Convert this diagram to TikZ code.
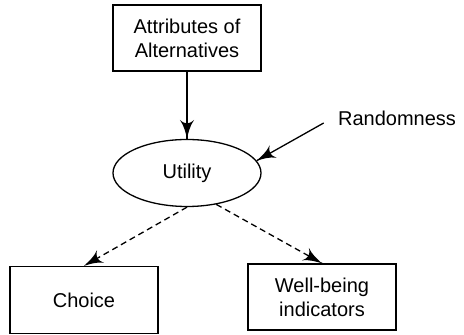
\documentclass[tikz,border=0pt]{standalone}
\usepackage{fontspec}
\setmainfont{Liberation Sans}
\usepackage{tikz}
\usetikzlibrary{arrows}
\usetikzlibrary{decorations.markings}
\usetikzlibrary{shapes.geometric}
\tikzset{arrowend/.style = {decoration={markings,
                                  mark=at position 1 with {\arrow[scale=2]{latex'}}},
                      postaction={decorate}}}
\tikzset{block/.style = {draw, line width=0.65pt, minimum width=74pt, minimum height=33pt,
                         align=center, font=\fontsize{10}{12}\selectfont}}

\begin{document}
\begin{tikzpicture}[x=0.5pt, y=-0.5pt]
    \useasboundingbox (0, 0) rectangle (464, 335);

    \node [block] (attr) at (187, 38) {Attributes of\\Alternatives};
    \node [block, ellipse, minimum height=33.5pt] (util) at (187, 173) {Utility};
    \node [inner sep=0, font=\fontsize{10}{12}\selectfont] (rand) at (397, 118) {Randomness};
    \node [block, minimum height=33.5pt] (choice) at (84, 300) {Choice};
    \node [block] (well) at (322, 297) {Well-being\\indicators};

    \draw [line width=0.65pt, arrowend] (attr) -- (util);
    \draw [line width=0.65pt, arrowend] ([xshift=-7pt, yshift=-2.5pt]rand.west) -- (util.10);

    \draw [line width=0.65pt, dash pattern=on 3pt off 2pt, arrowend] (util.south) -- (choice.north);
    \draw [line width=0.65pt, dash pattern=on 3pt off 2pt, arrowend] (util.-47) -- (well.north);
  \end{tikzpicture}
\end{document}
